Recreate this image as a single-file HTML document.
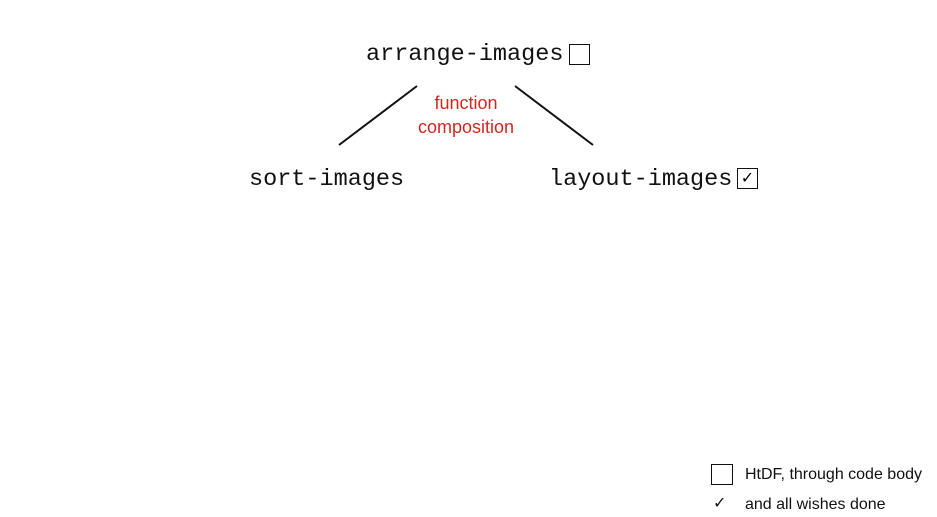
<!DOCTYPE html>
<html><head><style>
body{margin:0;width:937px;height:517px;background:#fff;overflow:hidden;position:relative}
.m{position:absolute;font-family:"Liberation Mono",monospace;font-size:23.5px;color:#111;line-height:1;white-space:nowrap}
.s{position:absolute;font-family:"Liberation Sans",sans-serif;white-space:nowrap;line-height:1}
.box{position:absolute;border:1.5px solid #111;box-sizing:border-box}
</style></head><body>
<svg width="937" height="517" style="position:absolute;left:0;top:0">
<line x1="417" y1="86" x2="339" y2="145" stroke="#111" stroke-width="2"/>
<line x1="515" y1="86" x2="593" y2="145" stroke="#111" stroke-width="2"/>
</svg>
<div class="m" style="left:366px;top:43px">arrange-images</div>
<div class="box" style="left:569px;top:44px;width:21px;height:21px"></div>
<div class="s" style="left:416px;top:91px;width:100px;text-align:center;color:#d0281e;font-size:18px;line-height:24px">function<br>composition</div>
<div class="m" style="left:249px;top:168px">sort-images</div>
<div class="m" style="left:549px;top:168px">layout-images</div>
<div class="box" style="left:737px;top:168px;width:21px;height:21px;font-family:'DejaVu Sans',sans-serif;font-size:16px;text-align:center;line-height:18px">✓</div>
<div class="box" style="left:711px;top:464px;width:22px;height:21px"></div>
<div class="s" style="left:745px;top:467px;font-size:16px;color:#111">HtDF, through code body</div>
<div class="s" style="left:713px;top:495px;font-size:16px;color:#111;font-family:'DejaVu Sans',sans-serif;font-weight:bold">✓</div>
<div class="s" style="left:745px;top:497px;font-size:16px;color:#111">and all wishes done</div>
</body></html>
